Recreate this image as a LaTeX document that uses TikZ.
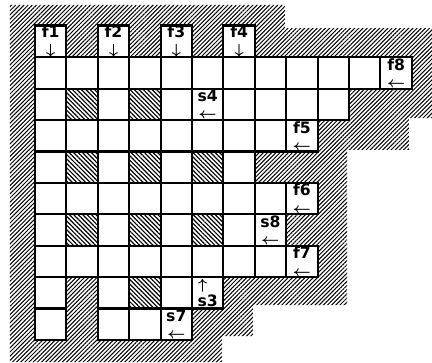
\documentclass[tikz,border=0pt]{standalone}
\usepackage{fontspec}
\setmainfont{DejaVu Sans}
\usetikzlibrary{patterns.meta}

\begin{document}
\begin{tikzpicture}[
    x=0.6cm, y=-0.6cm,
    cell/.style={draw, fill=white, line width=1.1pt, minimum size=0.6cm, inner sep=0pt, outer sep=0pt},
    dark/.style={cell, preaction={fill=white}, pattern={Lines[angle=-45, distance=1.7pt, line width=0.65pt]}},
    tag/.style={cell, align=center, font=\fontsize{8.5}{9.5}\selectfont\bfseries\boldmath}
]

    \useasboundingbox (-1.115,-1.825) rectangle (12.643,9.704);

    % Hatched surround
    \fill[pattern={Lines[angle=45, distance=1.6pt, line width=0.55pt]}]
        (-0.8,-1.67) -- (7.96,-1.67) -- (7.96,-0.93) -- (12.64,-0.93) -- (12.64,1.94)
        -- (11.91,1.94) -- (11.91,2.95) -- (9.94,2.95) -- (9.94,7.89) -- (6.94,7.89)
        -- (6.94,8.88) -- (5.96,8.88) -- (5.96,9.71) -- (-0.8,9.71) -- cycle;

    % Column heads
    \node[tag] (f1) at (0.5,-0.5) {f1\\$\downarrow$};
    \node[tag] (f2) at (2.5,-0.5) {f2\\$\downarrow$};
    \node[tag] (f3) at (4.5,-0.5) {f3\\$\downarrow$};
    \node[tag] (f4) at (6.5,-0.5) {f4\\$\downarrow$};

    % Row 0
    \foreach \c in {0,...,10} \node[cell] (r0c\c) at (\c+0.5,0.5) {};
    \node[tag] (f8) at (11.5,0.5) {f8\\$\leftarrow$};

    % Row 1
    \foreach \c in {0,2,4,6,7,8,9} \node[cell] (r1c\c) at (\c+0.5,1.5) {};
    \foreach \c in {1,3} \node[dark] (r1c\c) at (\c+0.5,1.5) {};
    \node[tag] (s4) at (5.5,1.5) {s4\\$\leftarrow$};

    % Row 2
    \foreach \c in {0,...,7} \node[cell] (r2c\c) at (\c+0.5,2.5) {};
    \node[tag] (f5) at (8.5,2.5) {f5\\$\leftarrow$};

    % Row 3
    \foreach \c in {0,2,4,6} \node[cell] (r3c\c) at (\c+0.5,3.5) {};
    \foreach \c in {1,3,5} \node[dark] (r3c\c) at (\c+0.5,3.5) {};

    % Row 4
    \foreach \c in {0,...,7} \node[cell] (r4c\c) at (\c+0.5,4.5) {};
    \node[tag] (f6) at (8.5,4.5) {f6\\$\leftarrow$};

    % Row 5
    \foreach \c in {0,2,4,6} \node[cell] (r5c\c) at (\c+0.5,5.5) {};
    \foreach \c in {1,3,5} \node[dark] (r5c\c) at (\c+0.5,5.5) {};
    \node[tag] (s8) at (7.5,5.5) {s8\\$\leftarrow$};

    % Row 6
    \foreach \c in {0,...,7} \node[cell] (r6c\c) at (\c+0.5,6.5) {};
    \node[tag] (f7) at (8.5,6.5) {f7\\$\leftarrow$};

    % Row 7
    \foreach \c in {0,2,4} \node[cell] (r7c\c) at (\c+0.5,7.5) {};
    \node[dark] (r7c3) at (3.5,7.5) {};
    \node[tag] (s3) at (5.5,7.5) {$\uparrow$\\s3};

    % Row 8
    \foreach \c in {0,2,3} \node[cell] (r8c\c) at (\c+0.5,8.5) {};
    \node[tag] (s7) at (4.5,8.5) {s7\\$\leftarrow$};

\end{tikzpicture}
\end{document}
